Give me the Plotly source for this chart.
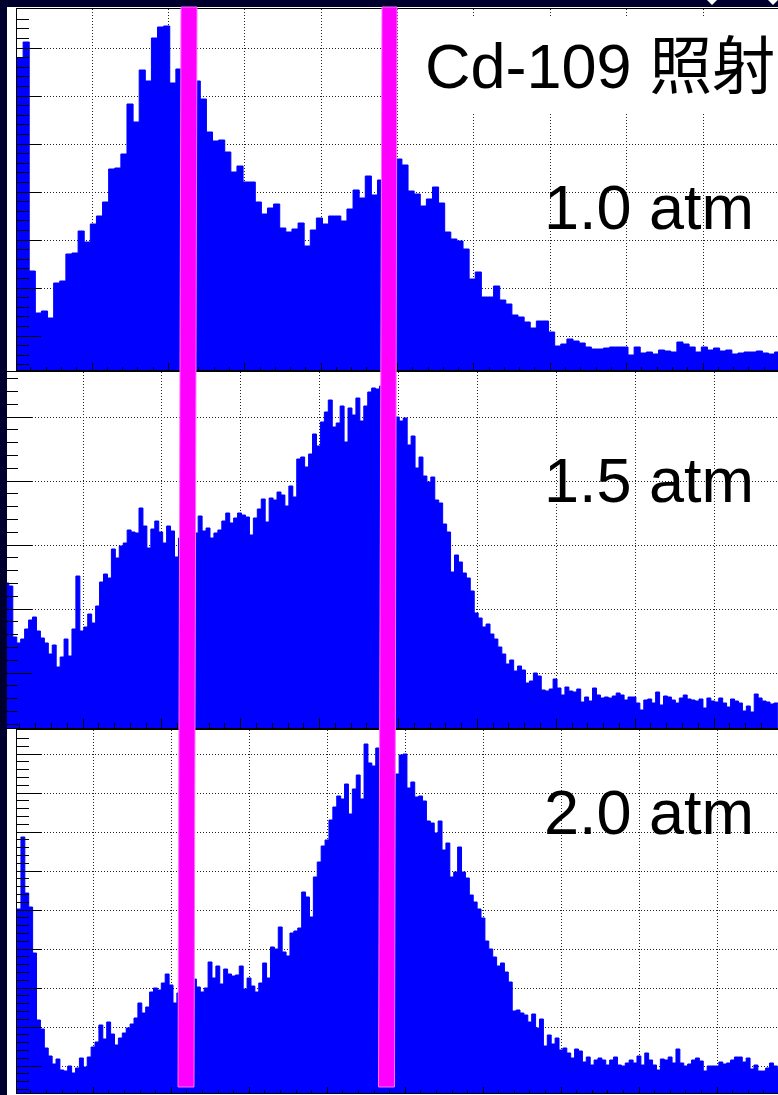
import plotly.graph_objects as go

# ---------------- data ----------------
title_text = "Cd-109 照射"
pressure_labels = ["1.0 atm", "1.5 atm", "2.0 atm"]

# panel 1 : 1.0 atm
bin_start_1 = 509
bin_width_1 = 40
counts_1 = [312, 328, 99, 57, 59, 52, 87, 89, 116, 117,
            139, 128, 146, 154, 168, 201, 202, 216, 266, 248,
            300, 289, 332, 343, 344, 287, 301, 300, 296, 289,
            271, 238, 229, 230, 218, 198, 204, 188, 188, 168,
            156, 162, 166, 142, 138, 141, 147, 124, 140, 152,
            146, 154, 154, 149, 161, 180, 172, 194, 175, 190,
            196, 205, 211, 205, 179, 176, 164, 171, 183, 167,
            138, 131, 129, 121, 91, 98, 73, 73, 84, 70,
            66, 55, 53, 48, 42, 49, 49, 38, 24, 26,
            31, 29, 27, 23, 21, 21, 22, 23, 23, 23,
            15, 23, 17, 18, 16, 20, 19, 18, 28, 26,
            23, 18, 23, 20, 22, 19, 20, 16, 17, 18,
            18, 19, 17, 16, 18]

# panel 2 : 1.5 atm
bin_start_2 = 505
bin_width_2 = 25
counts_2 = [145, 142, 91, 85, 89, 99, 108, 111, 97, 90,
            85, 74, 83, 61, 71, 89, 72, 99, 152, 97,
            101, 114, 105, 122, 146, 154, 150, 179, 170, 182,
            185, 198, 196, 195, 220, 202, 180, 199, 207, 196,
            185, 202, 197, 171,
            190, 195, 200, 205,
            195, 212, 197, 200, 190, 195, 198, 207, 215, 205,
            210, 215, 213, 211, 193, 210,
            219, 229, 206, 230, 228, 236, 233, 222, 242, 231,
            269, 271, 261, 274, 294, 282, 306, 316, 328, 301,
            305, 322, 286, 320, 313, 330, 307, 322, 336, 340, 339,
            342, 345, 338, 335,
            311, 307, 310, 283, 292, 260, 271, 252, 246, 251,
            228, 225, 204, 196, 156, 173, 166, 155, 150, 137,
            115, 110, 101, 104, 94, 89, 81, 74, 64, 68, 57,
            62, 58, 45, 47, 55, 52, 38, 37, 39, 49,
            40, 33, 41, 37, 36, 39, 26, 31, 27, 40,
            33, 30, 31, 30, 32, 35, 33, 28, 31, 31,
            25, 18, 28, 29, 25, 36, 23, 32, 31, 28,
            25, 30, 33, 29, 28, 27, 29, 20, 30, 27,
            26, 30, 25, 21, 29, 27, 25, 17, 22, 16,
            34, 30, 27, 26, 24, 25]

# panel 3 : 2.0 atm
bin_start_3 = 511
bin_width_3 = 25
counts_3 = [184, 256, 200, 186, 140, 73, 64, 45, 37, 29,
            34, 23, 22, 27, 20, 25, 35, 26, 36, 46,
            51, 68, 54, 71, 59, 48, 55, 60, 65, 69,
            75, 90, 80, 86, 101, 105, 103, 110, 119, 108, 90,
            100, 105, 110, 100,
            114, 106, 101, 105, 131, 115, 127, 109, 124, 119,
            117, 118, 127, 104, 115, 107, 101,
            110, 130, 115, 146, 144, 166, 141, 137, 160, 162,
            165, 201, 196, 176, 216, 231, 247, 253, 273, 286,
            297, 294, 309, 279, 304, 318, 294, 349, 330, 327,
            345, 340, 350, 338,
            295, 319, 338, 339, 305, 311, 296, 297, 292, 272,
            270, 260, 272, 243, 250, 216, 221, 246, 221, 215,
            198, 191, 184, 175, 152, 144, 136, 127, 130, 121, 111, 82,
            83, 80, 78, 71, 79, 65, 74, 47, 58, 49,
            55, 43, 45, 40, 35, 44, 42, 31, 36, 28,
            33, 35, 33, 28, 33, 36, 28, 27, 30, 33,
            30, 37, 28, 40, 33, 28, 23, 34, 33, 36,
            30, 44, 30, 27, 29, 33, 35, 32, 22, 27,
            27, 27, 31, 29, 30, 33, 36, 36, 31, 35,
            24, 28, 22, 22, 25, 30, 27, 24]

# ---------------- layout helpers ----------------
W, H = 778, 1095
NAVY = "#00002e"
BLUE = "#0000ff"
MAGENTA = "#ff00ff"
FONT = "Liberation Sans, Arial, Noto Sans CJK JP, sans-serif"


def px(xp):
    return xp / W


def py(yp):
    return 1 - yp / H


def x_range(left_px, right_px, grid_px, grid_val, major_px, dtick):
    upp = dtick / major_px
    return [grid_val - (grid_px - left_px) * upp, grid_val + (right_px - grid_px) * upp]


def hist_trace(start, width, counts, xa, ya):
    edges = [start + i * width for i in range(len(counts) + 1)]
    ys = list(counts) + [counts[-1]]
    return go.Scatter(x=edges, y=ys, xaxis=xa, yaxis=ya, mode="lines",
                      line=dict(shape="hv", color=BLUE, width=1),
                      fill="tozeroy", fillcolor=BLUE,
                      hoverinfo="skip", showlegend=False)


fig = go.Figure()
fig.add_trace(hist_trace(bin_start_1, bin_width_1, counts_1, "x", "y"))
fig.add_trace(hist_trace(bin_start_2, bin_width_2, counts_2, "x2", "y2"))
fig.add_trace(hist_trace(bin_start_3, bin_width_3, counts_3, "x3", "y3"))

grid = dict(showgrid=True, gridcolor="#222222", gridwidth=1, griddash="1px,2px",
            zeroline=False, showline=True, linecolor="black", linewidth=1,
            tickcolor="black", tickwidth=1, ticks="inside", automargin=False)

panels = [
    dict(left=17, top=9, bottom=370, gpx=92, mpx=76.375, xlen=7, xmin=3, y0=34, dy=48, ylen=24, ymin=12),
    dict(left=5, top=372, bottom=728, gpx=83, mpx=78.875, xlen=10, xmin=5, y0=55, dy=64, ylen=27, ymin=13),
    dict(left=17, top=730, bottom=1093, gpx=93.3, mpx=77.98, xlen=6, xmin=3, y0=27, dy=39, ylen=25, ymin=12),
]

for i, p in enumerate(panels):
    sfx = "" if i == 0 else str(i + 1)
    xr = x_range(p["left"], W, p["gpx"], 1000, p["mpx"], 500)
    fig.layout["xaxis" + sfx] = dict(
        grid, domain=[px(p["left"]), 1], range=xr, anchor="y" + sfx,
        tick0=0, dtick=500, ticklen=p["xlen"], mirror=True, showticklabels=False,
        minor=dict(ticks="inside", tick0=0, dtick=100, ticklen=p["xmin"],
                   tickcolor="black", tickwidth=1, showgrid=False))
    fig.layout["yaxis" + sfx] = dict(
        grid, domain=[py(p["bottom"]), py(p["top"])], range=[0, p["bottom"] - p["top"]],
        anchor="x" + sfx, tick0=p["y0"], dtick=p["dy"], ticklen=p["ylen"], mirror=False,
        showticklabels=False,
        minor=dict(ticks="inside", tick0=p["y0"], dtick=p["dy"] / 5, ticklen=p["ymin"],
                   tickcolor="black", tickwidth=1, showgrid=False))

shapes = [
    dict(type="rect", xref="paper", yref="paper", x0=px(7), x1=1, y0=0, y1=py(7),
         fillcolor="white", line=dict(width=0), layer="below"),
    dict(type="rect", xref="paper", yref="paper", x0=0, x1=px(7), y0=0, y1=1,
         fillcolor=NAVY, line=dict(width=0), layer="above"),
    dict(type="rect", xref="paper", yref="paper", x0=0, x1=1, y0=py(7), y1=1,
         fillcolor=NAVY, line=dict(width=0), layer="above"),
    dict(type="rect", xref="paper", yref="paper", x0=px(398), x1=1, y0=py(113), y1=py(17),
         fillcolor="white", line=dict(width=0), layer="above"),
]
for cx in (712, 773):
    shapes.append(dict(type="path", xref="paper", yref="paper",
                       path=f"M {px(cx-5)},{py(0)} L {px(cx+5)},{py(0)} L {px(cx)},{py(5)} Z",
                       fillcolor="white", line=dict(width=0), layer="above"))
for (xt0, xt1, xb0, xb1) in [(181, 197, 178, 194), (382, 397, 378.5, 394.5)]:
    path = (f"M {px(xt0)},{py(7)} L {px(xt1)},{py(7)} "
            f"L {px(xb1)},{py(1087)} L {px(xb0)},{py(1087)} Z")
    shapes.append(dict(type="path", xref="paper", yref="paper", path=path,
                       fillcolor=MAGENTA, line=dict(color="#ff70ff", width=1), layer="above"))

annotations = [
    dict(text=title_text, xref="paper", yref="paper", x=px(777), y=py(66),
         xanchor="right", yanchor="middle", showarrow=False,
         font=dict(family=FONT, size=63, color="black")),
]
for lab, cy in zip(pressure_labels, [207, 480, 812]):
    annotations.append(dict(text=lab, xref="paper", yref="paper", x=px(756), y=py(cy),
                            xanchor="right", yanchor="middle", showarrow=False,
                            font=dict(family=FONT, size=63, color="black")))

fig.update_layout(width=W, height=H, margin=dict(l=0, r=0, t=0, b=0, pad=0),
                  template="none", paper_bgcolor=NAVY, plot_bgcolor="white",
                  shapes=shapes, annotations=annotations, showlegend=False,
                  font=dict(family=FONT))

fig.write_html("out.html", config={"displayModeBar": False},
               post_script="document.body.style.margin='0';document.body.style.padding='0';")
